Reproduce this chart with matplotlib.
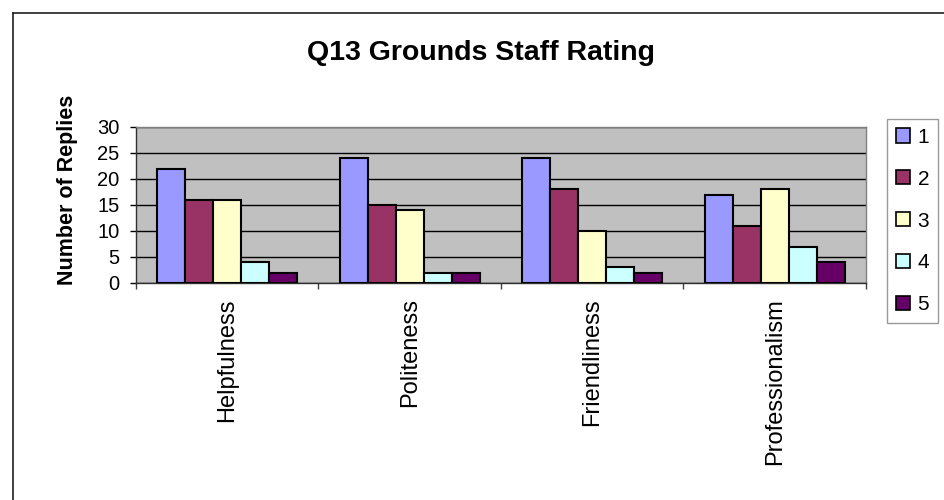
import matplotlib
matplotlib.use("Agg")
import matplotlib.pyplot as plt
import numpy as np
from matplotlib.patches import Patch
from matplotlib.lines import Line2D

plt.rcParams['font.family'] = ['Liberation Sans', 'DejaVu Sans']

categories = ["Helpfulness", "Politeness", "Friendliness", "Professionalism"]
ratings = ["1", "2", "3", "4", "5"]
r1 = [22, 24, 24, 17]
r2 = [16, 15, 18, 11]
r3 = [16, 14, 10, 18]
r4 = [4, 2, 3, 7]
r5 = [2, 2, 2, 4]
series = [r1, r2, r3, r4, r5]
colors = ["#9999FF", "#993366", "#FFFFCC", "#CCFFFF", "#660066"]

fig = plt.figure(figsize=(9.45, 5.0), dpi=100)
W, H = 945, 500
ax = fig.add_axes([136 / W, 1 - 283 / H, 730 / W, 156 / H])
ax.set_facecolor("#C0C0C0")

x = np.arange(len(categories))
w = 0.767 / 5
for i, (vals, c) in enumerate(zip(series, colors)):
    ax.bar(x + (i - 2) * w, vals, w, color=c, edgecolor="black", linewidth=1.5,
           label=ratings[i], zorder=3)

ax.set_xlim(-0.5, 3.5)
ax.set_ylim(0, 30)
ax.set_yticks(range(0, 31, 5))
ax.yaxis.grid(True, color="black", linewidth=1, zorder=1)
ax.set_axisbelow(True)

ax.set_xticks(x)
ax.set_xticklabels(categories, rotation=90, va="top", ha="center", fontsize=17)
ax.set_xticks(np.arange(-0.5, 4.0, 1.0), minor=True)
ax.tick_params(axis="x", which="major", length=0, pad=11)
ax.tick_params(axis="x", which="minor", length=4, width=1, color="#404040", direction="out")
ax.tick_params(axis="y", labelsize=14.5, length=4, width=1, color="black", pad=8)

for s in ["top", "right"]:
    ax.spines[s].set_color("#808080")
    ax.spines[s].set_linewidth(1)
for s in ["left", "bottom"]:
    ax.spines[s].set_color("#303030")
    ax.spines[s].set_linewidth(1)

fig.text(481 / W, 1 - 53 / H, "Q13 Grounds Staff Rating", ha="center", va="center",
         fontsize=20.5, fontweight="bold")
fig.text(68 / W, 1 - 190 / H, "Number of Replies", ha="center", va="center",
         rotation=90, fontsize=15.5, fontweight="bold")

handles = [Patch(facecolor=c, edgecolor="black", linewidth=1.2) for c in colors]
leg = fig.legend(handles, ratings, loc="upper left",
                 bbox_to_anchor=(887 / W, 1 - 119 / H), fontsize=15,
                 frameon=True, fancybox=False, edgecolor="#808080",
                 handlelength=0.67, handleheight=0.67, handletextpad=0.38,
                 labelspacing=1.1, borderpad=0.42, borderaxespad=0)
leg.get_frame().set_linewidth(1)

# outer chart border (cropped at right/bottom)
fig.add_artist(Line2D([13 / W, 13 / W], [0, 1 - 13 / H], transform=fig.transFigure,
                      color="#202020", linewidth=1.2))
fig.add_artist(Line2D([13 / W, 1], [1 - 13 / H, 1 - 13 / H], transform=fig.transFigure,
                      color="#202020", linewidth=1.2))

fig.savefig("out.png", dpi=100)
